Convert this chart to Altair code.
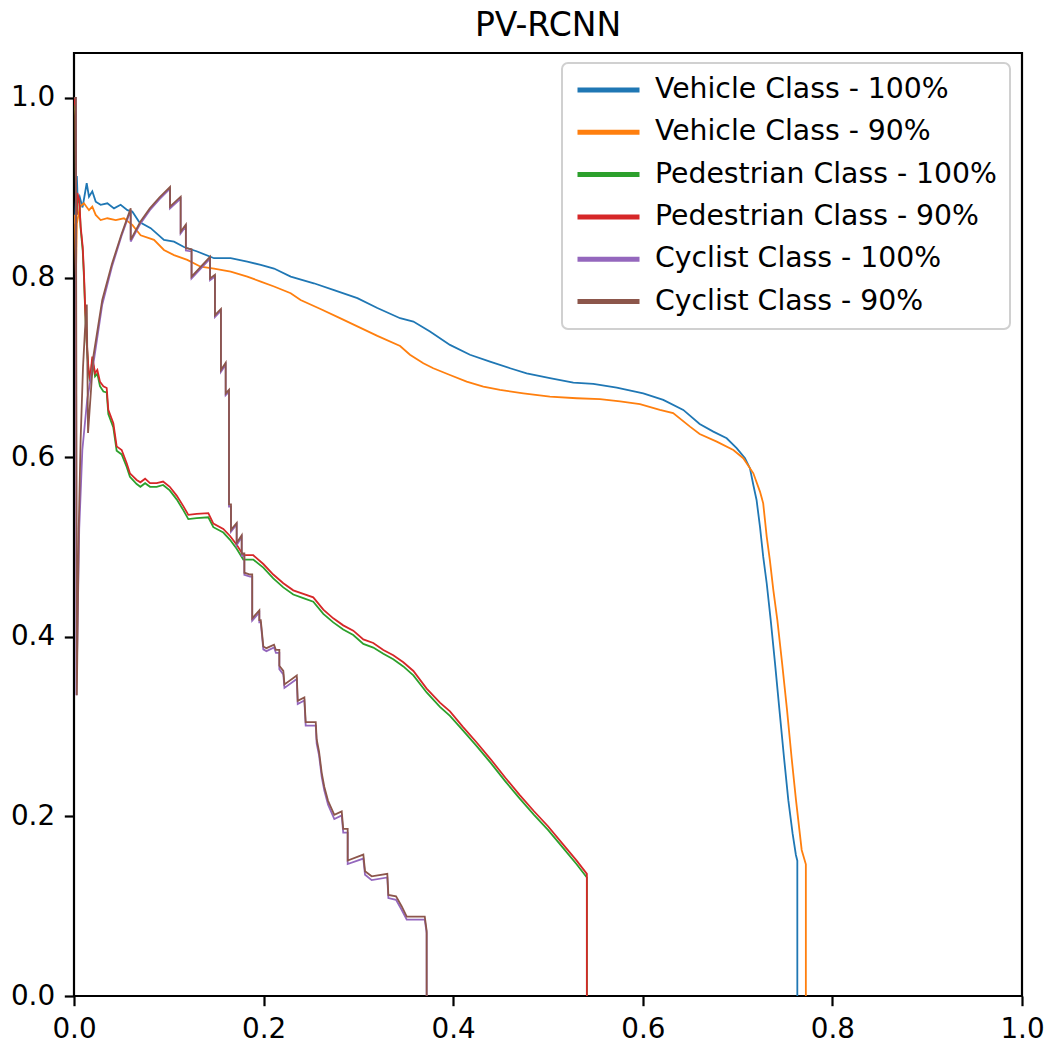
import altair as alt
import pandas as pd

series_names = [
    "Vehicle Class - 100%",
    "Vehicle Class - 90%",
    "Pedestrian Class - 100%",
    "Pedestrian Class - 90%",
    "Cyclist Class - 100%",
    "Cyclist Class - 90%",
]
series_colors = ["#1f77b4", "#ff7f0e", "#2ca02c", "#d62728", "#9467bd", "#8c564b"]

veh100_x = [0.001, 0.003, 0.004, 0.006, 0.009, 0.0134, 0.0158, 0.0193, 0.0229, 0.0281, 0.0352, 0.0422, 0.0492,
            0.0563, 0.0615, 0.0686, 0.0809, 0.0949, 0.1055, 0.116, 0.130, 0.1477, 0.1653, 0.1828, 0.197, 0.211,
            0.2286, 0.253, 0.2743, 0.2989, 0.32, 0.344, 0.358, 0.3755, 0.3966, 0.4177, 0.4388, 0.460, 0.4775,
            0.502, 0.5267, 0.5478, 0.5725, 0.6005, 0.6216, 0.6427, 0.660, 0.6744, 0.6885, 0.699, 0.7078, 0.713,
            0.7166, 0.720, 0.7236, 0.727, 0.7307, 0.7349, 0.7395, 0.744, 0.749, 0.7535, 0.758, 0.7615, 0.763, 0.763]
veh100_y = [0.86, 0.913, 0.883, 0.89, 0.878, 0.905, 0.890, 0.896, 0.8845, 0.881, 0.8827, 0.877, 0.881,
            0.875, 0.8734, 0.862, 0.855, 0.842, 0.840, 0.834, 0.829, 0.8215, 0.8215, 0.8177, 0.814, 0.810,
            0.801, 0.7936, 0.786, 0.777, 0.766, 0.7547, 0.751, 0.740, 0.725, 0.714, 0.7063, 0.699, 0.6934,
            0.688, 0.683, 0.6815, 0.6774, 0.6711, 0.6637, 0.6526, 0.637, 0.6284, 0.621, 0.610, 0.5988, 0.5877,
            0.569, 0.5523, 0.5226, 0.4892, 0.4596, 0.4187, 0.37, 0.32, 0.265, 0.218, 0.181, 0.157, 0.1507, 0.0]

veh90_x = [0.001, 0.002, 0.003, 0.0063, 0.0105, 0.0158, 0.0193, 0.0229, 0.0281, 0.0352, 0.044, 0.0527, 0.0615,
           0.0703, 0.0844, 0.0949, 0.1055, 0.1195, 0.1336, 0.1477, 0.1653, 0.1828, 0.197, 0.211, 0.2286, 0.239,
           0.26, 0.28, 0.30, 0.32, 0.344, 0.3544, 0.3685, 0.379, 0.3966, 0.4142, 0.4318, 0.4494, 0.474, 0.502,
           0.5303, 0.5549, 0.576, 0.597, 0.618, 0.632, 0.6498, 0.660, 0.678, 0.6955, 0.706, 0.7166, 0.7236,
           0.727, 0.7307, 0.734, 0.7377, 0.7419, 0.747, 0.752, 0.757, 0.7616, 0.7676, 0.772, 0.772]
veh90_y = [0.87, 0.801, 0.86, 0.879, 0.8827, 0.875, 0.879, 0.8697, 0.864, 0.866, 0.864, 0.866, 0.8586,
           0.847, 0.842, 0.8307, 0.825, 0.8196, 0.812, 0.810, 0.8066, 0.801, 0.7955, 0.790, 0.7825, 0.775,
           0.765, 0.755, 0.745, 0.735, 0.7238, 0.714, 0.7045, 0.699, 0.6915, 0.684, 0.6785, 0.6748, 0.6711, 0.6674,
           0.6656, 0.6645, 0.662, 0.659, 0.6526, 0.649, 0.634, 0.6258, 0.6173, 0.608, 0.5988, 0.582, 0.5616,
           0.5486, 0.5115, 0.4855, 0.452, 0.4187, 0.37, 0.32, 0.265, 0.218, 0.1626, 0.1466, 0.0]

ped_x = [0.0, 0.0015, 0.002, 0.003, 0.0035, 0.0056, 0.007, 0.0092, 0.0105, 0.012, 0.0134, 0.0151, 0.0169, 0.0193,
         0.0222, 0.0246, 0.0274, 0.031, 0.0345, 0.0362, 0.0415, 0.045, 0.0503, 0.0556, 0.059, 0.0661, 0.07, 0.075,
         0.0802, 0.0872, 0.094, 0.101, 0.1083, 0.1153, 0.1206, 0.1294, 0.1417, 0.147, 0.1575, 0.1646, 0.1716,
         0.1786, 0.1891, 0.1997, 0.2102, 0.2208, 0.2313, 0.2419, 0.2524, 0.263, 0.2735, 0.284, 0.2946, 0.3052,
         0.3157, 0.3263, 0.3368, 0.3474, 0.358, 0.372, 0.386, 0.3966, 0.41, 0.425, 0.44, 0.455, 0.47, 0.485, 0.5,
         0.515, 0.53, 0.541, 0.541]
ped90_y = [1.0, 0.99, 0.90, 0.87, 0.894, 0.886, 0.857, 0.834, 0.805, 0.760, 0.7305, 0.7008, 0.686, 0.712,
           0.6934, 0.697, 0.684, 0.679, 0.677, 0.6526, 0.6377, 0.612, 0.608, 0.5932, 0.582, 0.5746, 0.572, 0.576,
           0.571, 0.571, 0.5728, 0.567, 0.5572, 0.5455, 0.5357, 0.5369, 0.5376, 0.526, 0.520, 0.5122, 0.5025,
           0.4908, 0.4908, 0.481, 0.4693, 0.4596, 0.4517, 0.4478, 0.4439, 0.4303, 0.4205, 0.4127, 0.4068, 0.397,
           0.3931, 0.3853, 0.3794, 0.3716, 0.3619, 0.3423, 0.3267, 0.3169, 0.300, 0.282, 0.263, 0.243, 0.224,
           0.206, 0.189, 0.170, 0.151, 0.136, 0.0]
ped100_y = [1.0, 0.98, 0.89, 0.87, 0.89, 0.884, 0.855, 0.83, 0.80, 0.757, 0.727, 0.698, 0.684, 0.709,
            0.69, 0.693, 0.679, 0.673, 0.672, 0.648, 0.633, 0.607, 0.603, 0.589, 0.578, 0.570, 0.567, 0.571,
            0.567, 0.567, 0.569, 0.563, 0.553, 0.541, 0.531, 0.532, 0.533, 0.522, 0.516, 0.508, 0.498,
            0.486, 0.486, 0.477, 0.465, 0.455, 0.447, 0.443, 0.439, 0.4255, 0.416, 0.408, 0.402, 0.392,
            0.388, 0.381, 0.375, 0.367, 0.357, 0.338, 0.322, 0.312, 0.296, 0.278, 0.259, 0.239, 0.220,
            0.202, 0.185, 0.166, 0.147, 0.132, 0.0]

cyc90_x = [0.0, 0.002, 0.003, 0.005, 0.007, 0.0095, 0.0116, 0.0135, 0.0148, 0.0204, 0.0298, 0.04, 0.05, 0.0598,
           0.0598, 0.07, 0.08, 0.09, 0.1013, 0.1013, 0.1125, 0.1125, 0.118, 0.118, 0.124, 0.124, 0.1435, 0.1435,
           0.1487, 0.1487, 0.155, 0.155, 0.160, 0.160, 0.1635, 0.1635, 0.1656, 0.1656, 0.1716, 0.1716, 0.1769,
           0.1769, 0.1797, 0.1797, 0.1857, 0.188, 0.188, 0.1955, 0.1955, 0.197, 0.1997, 0.203, 0.211, 0.213,
           0.2166, 0.2166, 0.2208, 0.222, 0.235, 0.236, 0.243, 0.2444, 0.255, 0.256, 0.2585, 0.2613, 0.264, 0.268,
           0.2746, 0.2824, 0.284, 0.2887, 0.2887, 0.3052, 0.307, 0.314, 0.3305, 0.3316, 0.3397, 0.3456, 0.351,
           0.370, 0.372, 0.372]
cyc90_y = [1.0, 1.0, 0.335, 0.52, 0.62, 0.70, 0.742, 0.77, 0.627, 0.712, 0.775, 0.815, 0.848, 0.877,
           0.842, 0.862, 0.877, 0.889, 0.901, 0.879, 0.890, 0.851, 0.859, 0.8326, 0.8315, 0.801, 0.823, 0.799,
           0.803, 0.758, 0.765, 0.697, 0.705, 0.671, 0.675, 0.5474, 0.5474, 0.519, 0.5267, 0.5045, 0.513,
           0.4927, 0.4927, 0.4713, 0.4693, 0.4693, 0.4205, 0.4294, 0.4185, 0.4185, 0.3892, 0.3873, 0.3912, 0.3853,
           0.3853, 0.3677, 0.362, 0.347, 0.3568, 0.3286, 0.3325, 0.305, 0.305, 0.2856, 0.272, 0.2485, 0.233, 0.2173,
           0.2017, 0.2056, 0.186, 0.186, 0.1509, 0.1575, 0.139, 0.1333, 0.136, 0.1126, 0.111, 0.100, 0.0883,
           0.0883, 0.0727, 0.0]

cyc100_x = [0.0, 0.002, 0.0025, 0.0055, 0.0088, 0.014, 0.021, 0.0298, 0.04, 0.05, 0.0598,
            0.0598, 0.07, 0.08, 0.09, 0.1013, 0.1013, 0.1125, 0.1125, 0.118, 0.118, 0.124, 0.124, 0.1435, 0.1435,
            0.1487, 0.1487, 0.155, 0.155, 0.160, 0.160, 0.1635, 0.1635, 0.1656, 0.1656, 0.1716, 0.1716, 0.1769,
            0.1769, 0.1797, 0.1797, 0.1857, 0.188, 0.188, 0.1955, 0.1955, 0.197, 0.1997, 0.203, 0.211, 0.213,
            0.2166, 0.2166, 0.2208, 0.222, 0.235, 0.236, 0.243, 0.2444, 0.255, 0.256, 0.2585, 0.2613, 0.264, 0.268,
            0.2746, 0.2824, 0.284, 0.2887, 0.2887, 0.3052, 0.307, 0.314, 0.3305, 0.3316, 0.3397, 0.3456, 0.351,
            0.370, 0.372, 0.372]
cyc100_y = [1.0, 1.0, 0.335, 0.52, 0.608, 0.665, 0.708, 0.77, 0.812, 0.846, 0.875,
            0.840, 0.860, 0.875, 0.887, 0.899, 0.877, 0.888, 0.849, 0.857, 0.830, 0.829, 0.799, 0.821, 0.797,
            0.801, 0.756, 0.763, 0.695, 0.703, 0.669, 0.673, 0.545, 0.545, 0.517, 0.525, 0.502, 0.511,
            0.490, 0.490, 0.469, 0.467, 0.467, 0.418, 0.427, 0.416, 0.416, 0.386, 0.384, 0.388, 0.382,
            0.382, 0.364, 0.358, 0.343, 0.353, 0.325, 0.329, 0.301, 0.301, 0.281, 0.268, 0.244, 0.229, 0.213,
            0.197, 0.201, 0.182, 0.182, 0.147, 0.153, 0.135, 0.129, 0.132, 0.109, 0.107, 0.096, 0.085,
            0.085, 0.070, 0.0]

xs_all = [veh100_x, veh90_x, ped_x, ped_x, cyc100_x, cyc90_x]
ys_all = [veh100_y, veh90_y, ped100_y, ped90_y, cyc100_y, cyc90_y]

rows = []
for name, xs, ys in zip(series_names, xs_all, ys_all):
    for i, (a, b) in enumerate(zip(xs, ys)):
        rows.append({"series": name, "recall": a, "precision": b, "i": i})
df = pd.DataFrame(rows)

FONT = "DejaVu Sans"
tick_vals = [0.0, 0.2, 0.4, 0.6, 0.8, 1.0]

color = alt.Color(
    "series:N",
    scale=alt.Scale(domain=series_names, range=series_colors),
    legend=alt.Legend(
        title=None,
        orient="none",
        legendX=488,
        legendY=10,
        padding=13,
        symbolType="stroke",
        symbolSize=3844,
        symbolStrokeWidth=5,
        labelFontSize=28.3,
        labelFont=FONT,
        labelColor="black",
        labelOffset=13,
        rowPadding=13.3,
        clipHeight=28,
        strokeColor="#d0d0d0",
        fillColor="rgba(255,255,255,0.8)",
        cornerRadius=6,
        labelLimit=600,
    ),
)

base = alt.Chart(df).mark_line(strokeWidth=1.8, clip=True).encode(
    x=alt.X("recall:Q", scale=alt.Scale(domain=[0, 1], nice=False),
            axis=alt.Axis(values=tick_vals, format=".1f", title=None, labelFlush=False)),
    y=alt.Y("precision:Q", scale=alt.Scale(domain=[0, 1.05], nice=False, zero=False),
            axis=alt.Axis(values=tick_vals, format=".1f", title=None, labelFlush=False)),
    color=color,
    order=alt.Order("i:Q"),
)

layers = [base.transform_filter(alt.datum.series == n) for n in series_names]

chart = (
    alt.layer(*layers)
    .properties(
        width=948,
        height=943,
        title=alt.TitleParams("PV-RCNN", fontSize=33, font=FONT, fontWeight="normal",
                              color="black", anchor="middle", baseline="alphabetic", offset=-16),
        padding={"left": 10, "top": 10, "right": 5, "bottom": 5},
    )
    .configure_view(stroke="black", strokeWidth=2.2)
    .configure_axis(
        grid=False, domain=False, tickColor="black", tickWidth=2.2, tickSize=9.7,
        labelPadding=9.7, labelFontSize=27.8, labelFont=FONT, labelColor="black",
    )
    .configure_legend(strokeWidth=2)
)

chart.save("out.html", embed_options={"renderer": "svg", "actions": False})
